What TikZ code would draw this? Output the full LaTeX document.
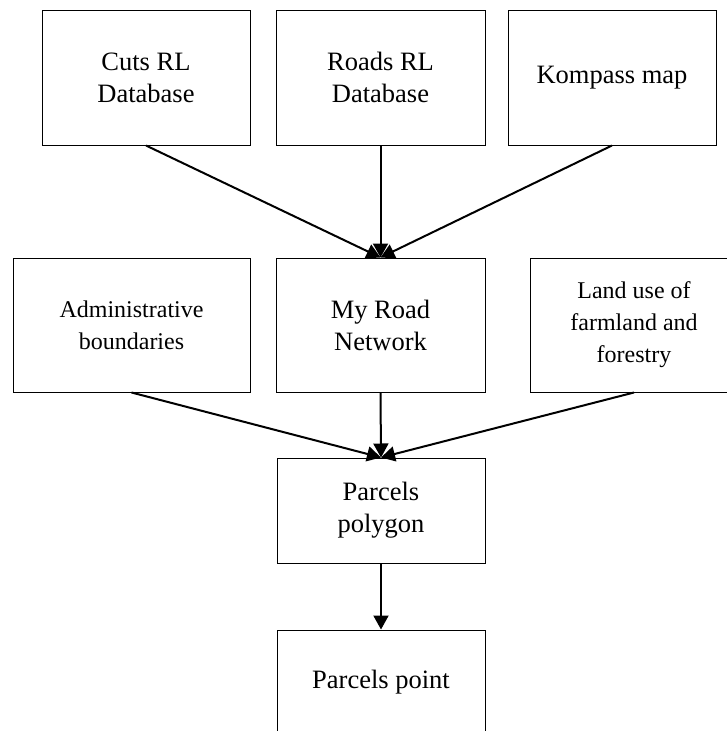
\documentclass[tikz,border=0pt]{standalone}
\usepackage{fontspec}
\setmainfont{Liberation Serif}
\usetikzlibrary{arrows.meta}

\begin{document}
\begin{tikzpicture}[
  x=1pt, y=-1pt,
  >={Triangle[length=14pt, width=15pt]},
  box/.style={
    draw=black, line width=1pt, fill=white,
    minimum width=208pt, minimum height=#1,
    font=\fontsize{26.5}{32}\selectfont, align=center, inner sep=4pt
  },
  box/.default=135pt,
  small/.style={font=\fontsize{24}{32}\selectfont},
  arr/.style={->, line width=2pt, black},
]

% Page frame
\useasboundingbox (0,0) rectangle (726,731);

% ===== Sources =====
\node[box] (cuts) at (146,77.5) {Cuts RL\\Database};
\node[box, minimum width=209pt] (roads) at (380.5,77.5) {Roads RL\\Database};
\node[box] (kompass) at (612,77.5) {Kompass map};

% ===== Intermediate layers =====
\node[box=134pt, small, minimum width=237pt] (admin) at (131.5,325)
  {Administrative\\boundaries};
\node[box=134pt, minimum width=209pt] (network) at (380.5,325)
  {My Road\\Network};
\node[box=134pt, small] (landuse) at (634,325)
  {Land use of\\farmland and\\forestry};

% ===== Parcels =====
\node[box=105pt] (polygon) at (381,510.5) {Parcels\\polygon};
\node[box=105pt] (point) at (381,682.5) {Parcels point};

% ===== Arrows =====
\draw[arr] (cuts.south) -- (network.north);
\draw[arr] (roads.south) -- (network.north);
\draw[arr] (kompass.south) -- (network.north);

\draw[arr] (admin.south) -- (polygon.north);
\draw[arr] (network.south) -- (polygon.north);
\draw[arr] (landuse.south) -- (polygon.north);

\draw[arr] (polygon.south) -- (point.north);

\end{tikzpicture}
\end{document}
